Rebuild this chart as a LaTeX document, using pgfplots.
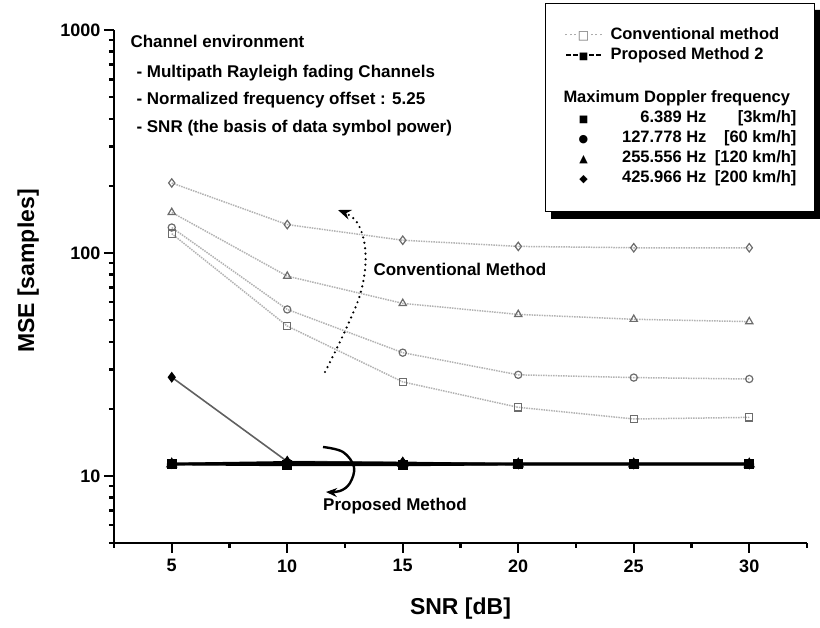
\documentclass[border=0pt]{standalone}
\usepackage{fontspec}
\setmainfont{Liberation Sans}
\newfontfamily\symfont{DejaVu Sans}
\usepackage{pgfplots}
\pgfplotsset{compat=1.18}
\usetikzlibrary{arrows.meta}

\newcommand\dotseg{\xleaders\hbox to 4pt{\hss\rule[4.5pt]{1.7pt}{1.7pt}\hss}\hskip 14pt}
\newcommand\dashseg{\xleaders\hbox to 7pt{\hss\rule[4.2pt]{4.5pt}{2.2pt}\hss}\hskip 14pt}
\newcommand\symb[2][11]{{\symfont\fontsize{#1}{#1}\selectfont #2}}

\pgfplotsset{
  conv/.style={color=gray!60, densely dotted, line width=1.5pt,
    mark size=3.6pt, mark options={solid, draw=gray!85!black, fill=white, line width=1.2pt}},
  prop/.style={color=black, solid, line width=2.6pt,
    mark size=3.6pt, mark options={solid, draw=black, fill=black}},
}

\begin{document}
\begin{tikzpicture}
\begin{axis}[
  scale only axis, width=693pt, height=513pt,
  xmin=2.5, xmax=32.5, ymode=log, ymin=5, ymax=1000,
  axis lines*=left,
  axis line style={line width=2.6pt, black},
  every tick/.style={line width=2.2pt, black},
  tick align=outside,
  major tick length=10pt, minor tick length=5pt,
  xtick={5,10,15,20,25,30},
  minor xtick={2.5,7.5,12.5,17.5,22.5,27.5,32.5},
  ytick={10,100,1000}, yticklabels={10,100,1000},
  minor ytick={5,6,7,8,9,20,30,40,50,60,70,80,90,200,300,400,500,600,700,800,900},
  /pgf/number format/assume math mode=true,
  tick label style={font=\bfseries\fontsize{18}{18}\selectfont},
  xticklabel style={yshift=-3pt},
  xlabel={SNR [dB]}, ylabel={MSE [samples]},
  every axis x label/.style={at={(axis description cs:0.5,-0.127)}, anchor=center,
    font=\bfseries\fontsize{23}{23}\selectfont},
  every axis y label/.style={at={(axis description cs:-0.124,0.53)}, rotate=90, anchor=center,
    font=\bfseries\fontsize{23}{23}\selectfont},
  clip=false,
]
% conventional method
\addplot[conv, mark=square] coordinates {(5,122) (10,47) (15,26.4) (20,20.3) (25,18.0) (30,18.3)};
\addplot[conv, mark=o] coordinates {(5,130) (10,55.8) (15,35.7) (20,28.4) (25,27.6) (30,27.2)};
\addplot[conv, mark=triangle, mark size=4.2pt] coordinates {(5,152) (10,78.7) (15,59.4) (20,53) (25,50.4) (30,49.2)};
\addplot[conv, mark=diamond, mark size=4.2pt] coordinates {(5,206) (10,134) (15,114) (20,107) (25,105.5) (30,105.5)};

% proposed method
\addplot[prop, color=gray!75!black, line width=1.6pt, mark=diamond*, mark size=4.2pt] coordinates {(5,27.7) (10,11.6) (15,11.5) (20,11.3) (25,11.3) (30,11.3)};
\addplot[prop, mark=triangle*, mark size=4.2pt] coordinates {(5,11.3) (10,11.5) (15,11.4) (20,11.3) (25,11.3) (30,11.3)};
\addplot[prop, mark=*] coordinates {(5,11.3) (10,11.4) (15,11.3) (20,11.3) (25,11.3) (30,11.3)};
\addplot[prop, mark=square*] coordinates {(5,11.3) (10,11.2) (15,11.2) (20,11.3) (25,11.3) (30,11.3)};
\end{axis}

% annotations (1pt = 1px of the reference, origin at the axis' lower left corner)
\begin{scope}[font=\bfseries\fontsize{17}{20}\selectfont]
\node[anchor=mid west] at (13pt,498pt) {Channel environment};
\node[anchor=mid west] at (19pt,468pt) {- Multipath Rayleigh fading Channels};
\node[anchor=mid west] at (19pt,441pt) {- Normalized frequency offset : 5.25};
\node[anchor=mid west] at (19pt,413pt) {- SNR (the basis of data symbol power)};
\node[anchor=mid west] at (256pt,270pt) {Conventional Method};
\node[anchor=mid] at (281pt,35pt) {Proposed Method};
\end{scope}
\draw[line width=2.4pt, dash pattern=on 0pt off 5.5pt, line cap=round,
      -{Stealth[length=13pt,width=10pt]}]
  plot[smooth, tension=0.6] coordinates {(211pt,171pt) (223pt,195pt) (236pt,223pt) (246pt,248pt) (251pt,273pt) (251pt,296pt) (246pt,315pt) (238pt,326pt) (224pt,333pt)};
\draw[line width=2.4pt, -{Stealth[length=11pt,width=9pt]}]
  plot[smooth, tension=0.6] coordinates {(209pt,96pt) (229pt,91pt) (240pt,76pt) (236pt,60pt) (226pt,52pt) (212pt,51pt)};

% legend box
\node[anchor=north west, draw=black, line width=1pt, fill=white,
      inner xsep=18pt, inner ysep=22.5pt,
      font=\bfseries\fontsize{16.5}{20}\selectfont] (lg) at (431pt,540pt) {%
\begin{tabular}{@{}c@{\hspace{7pt}}l@{}}
\makebox[40pt]{\color{gray!65}\dotseg\symb[12]{\color{gray!85!black}□}\dotseg} & Conventional method\\
\makebox[40pt]{\dashseg\symb[10]{■}\dashseg} & Proposed Method 2\\
\multicolumn{2}{@{}l@{}}{\rule{0pt}{17pt}}\\
\multicolumn{2}{@{}l@{}}{Maximum Doppler frequency}\\
\makebox[40pt]{\symb[10]{■}} & \makebox[96pt][r]{6.389 Hz}\makebox[90pt][r]{[3km/h]}\\
\makebox[40pt]{\symb[11]{●}} & \makebox[96pt][r]{127.778 Hz}\makebox[90pt][r]{[60 km/h]}\\
\makebox[40pt]{\symb[11]{▲}} & \makebox[96pt][r]{255.556 Hz}\makebox[90pt][r]{[120 km/h]}\\
\makebox[40pt]{\symb[11]{◆}} & \makebox[96pt][r]{425.966 Hz}\makebox[90pt][r]{[200 km/h]}
\end{tabular}};
% its black drop shadow (an L-shaped band along the right and bottom sides)
\fill[black] ([xshift=6pt]lg.south west) -- ([xshift=6pt,yshift=-7pt]lg.south west)
  -- ([xshift=6pt,yshift=-7pt]lg.south east) -- ([xshift=6pt,yshift=-7pt]lg.north east)
  -- ([yshift=-7pt]lg.north east) -- (lg.south east) -- cycle;

\pgfresetboundingbox
\useasboundingbox (-114pt,-85pt) rectangle (706pt,543pt);
\end{tikzpicture}
\end{document}
